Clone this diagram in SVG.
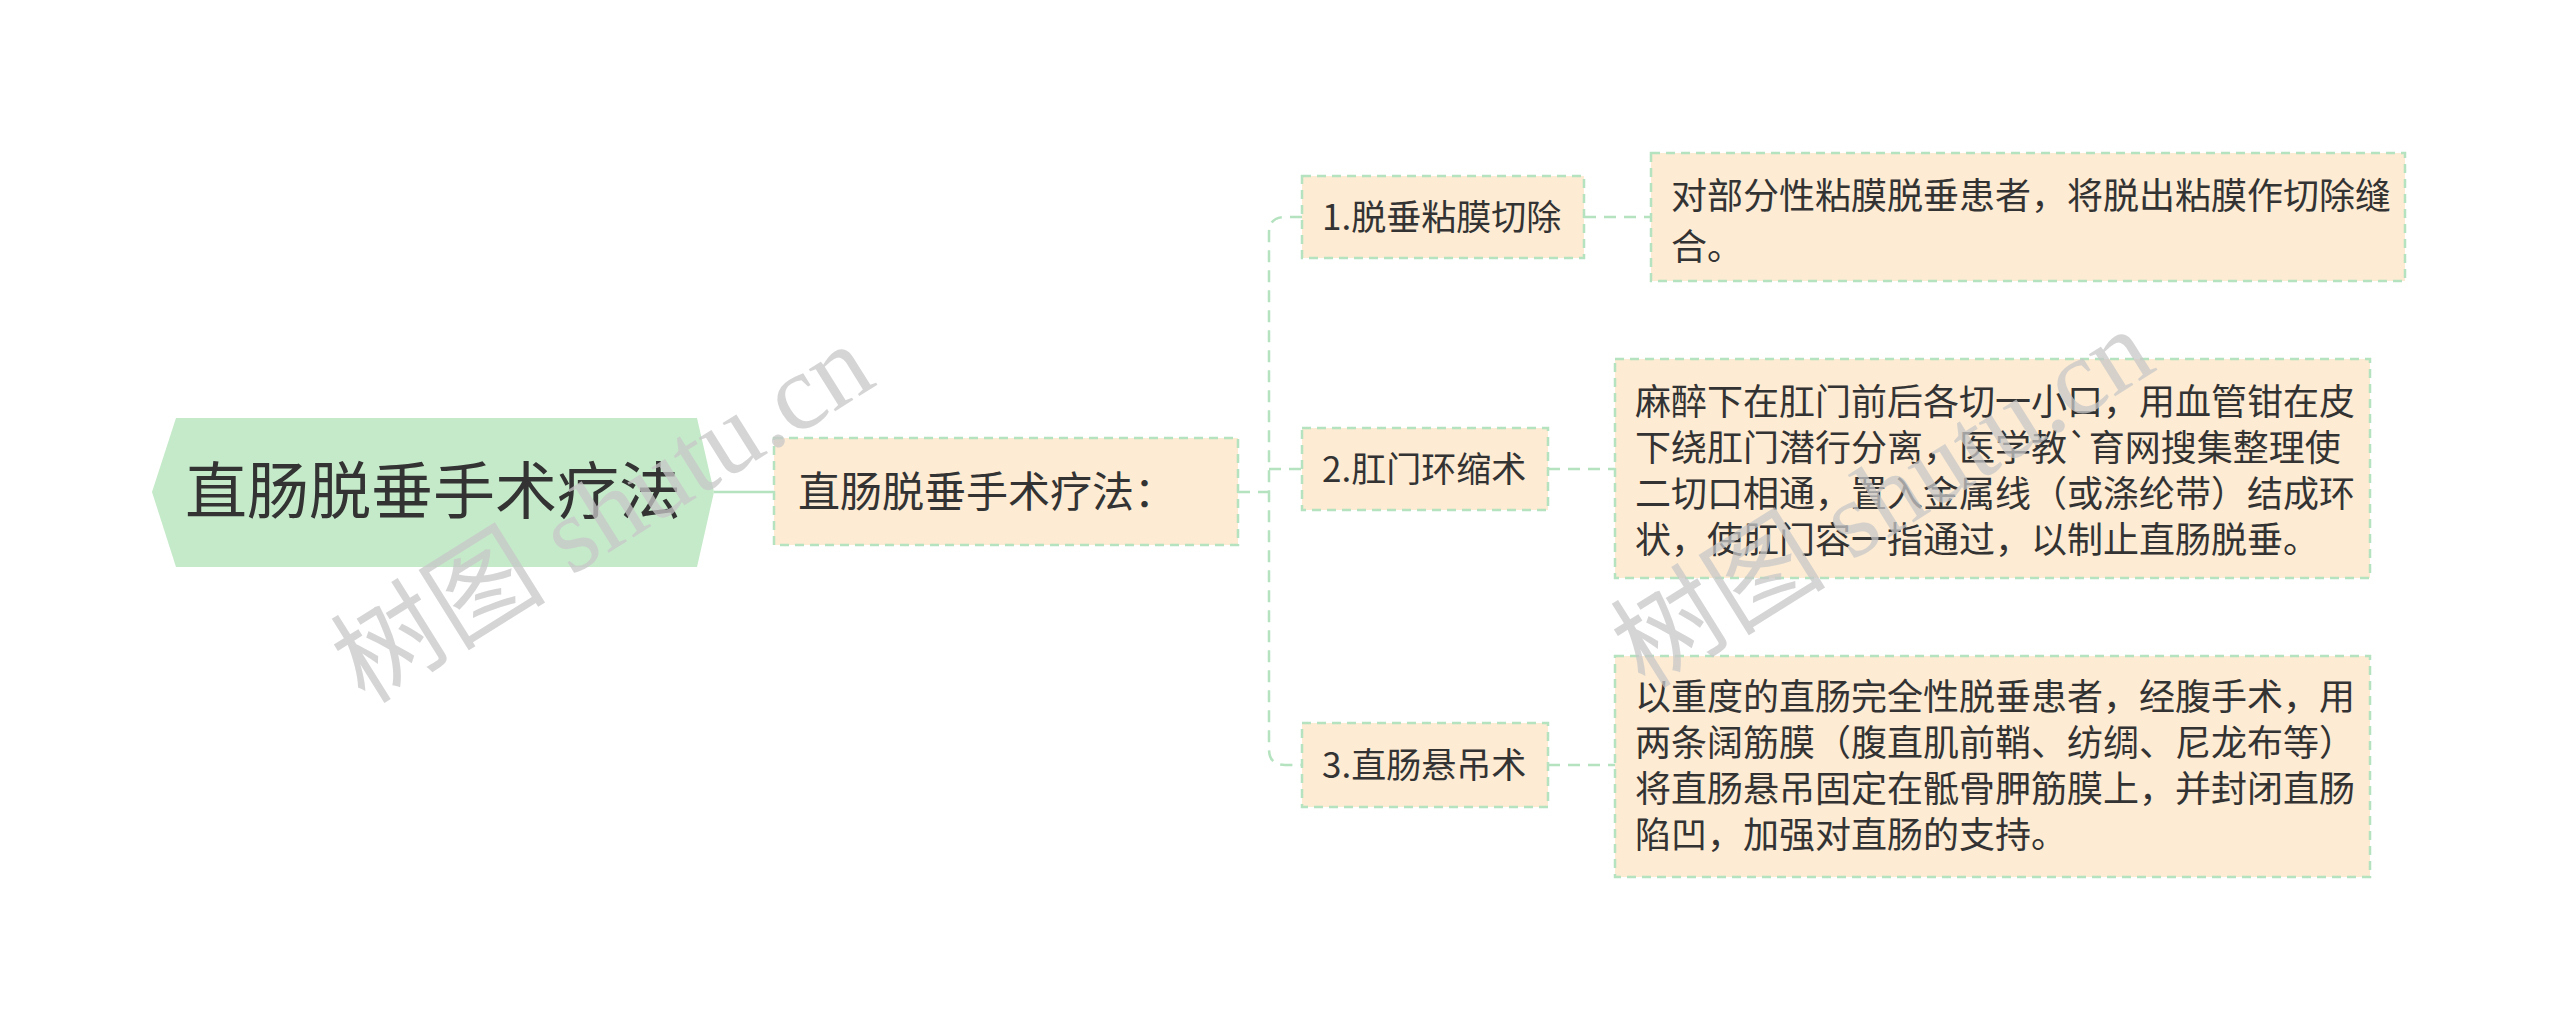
<svg xmlns="http://www.w3.org/2000/svg" width="2560" height="1031" viewBox="0 0 2560 1031">
<style>
.box{fill:#fdebd3;stroke:#b5e3c0;stroke-width:2.5;stroke-dasharray:9 6}
.con{fill:none;stroke:#b5e3c0;stroke-width:2.5;stroke-dasharray:12 8}
.t{font-family:"Noto Sans CJK SC","Noto Sans",sans-serif;fill:#333}
.wm{font-family:"Liberation Serif","Noto Sans CJK SC",serif;fill:#c8c8c8;font-size:108px;opacity:0.75}
</style>
<rect width="2560" height="1031" fill="#fff"/>
<g id="connectors">
<line x1="714" y1="492" x2="774" y2="492" stroke="#b5e3c0" stroke-width="2.5"/>
<path class="con" d="M1238 492H1269M1302 217H1285Q1269 217 1269 233V749Q1269 765 1285 765H1302M1269 469H1302"/>
<line class="con" x1="1584" y1="217" x2="1651" y2="217"/>
<line class="con" x1="1548" y1="469" x2="1615" y2="469"/>
<line class="con" x1="1548" y1="765" x2="1615" y2="765"/>
</g>
<g id="root">
<polygon points="176,418 697,418 714,492 697,567 176,567 152,492" fill="#c5eac9"/>
<text class="t" x="433" y="514" font-size="62" text-anchor="middle">直肠脱垂手术疗法</text>
</g>
<g id="n1">
<rect class="box" x="774" y="438" width="464" height="107"/>
<text class="t" x="798" y="507" font-size="42">直肠脱垂手术疗法：</text>
</g>
<g id="c1">
<rect class="box" x="1302" y="176" width="282" height="82"/>
<text class="t" x="1322" y="230" font-size="35">1.脱垂粘膜切除</text>
</g>
<g id="c2">
<rect class="box" x="1302" y="428" width="246" height="82"/>
<text class="t" x="1322" y="482" font-size="35">2.肛门环缩术</text>
</g>
<g id="c3">
<rect class="box" x="1302" y="723" width="246" height="84"/>
<text class="t" x="1322" y="778" font-size="35">3.直肠悬吊术</text>
</g>
<g id="l1">
<rect class="box" x="1651" y="153" width="754" height="128"/>
<text class="t" font-size="36"><tspan x="1671" y="209">对部分性粘膜脱垂患者，将脱出粘膜作切除缝</tspan><tspan x="1671" y="260">合。</tspan></text>
</g>
<g id="l2">
<rect class="box" x="1615" y="359" width="755" height="219"/>
<text class="t" font-size="36"><tspan x="1635" y="415">麻醉下在肛门前后各切一小口，用血管钳在皮</tspan><tspan x="1635" y="461">下绕肛门潜行分离，医学教`育网搜集整理使</tspan><tspan x="1635" y="507">二切口相通，置入金属线（或涤纶带）结成环</tspan><tspan x="1635" y="553">状，使肛门容一指通过，以制止直肠脱垂。</tspan></text>
</g>
<g id="l3">
<rect class="box" x="1615" y="656" width="755" height="221"/>
<text class="t" font-size="36"><tspan x="1635" y="710">以重度的直肠完全性脱垂患者，经腹手术，用</tspan><tspan x="1635" y="756">两条阔筋膜（腹直肌前鞘、纺绸、尼龙布等）</tspan><tspan x="1635" y="802">将直肠悬吊固定在骶骨胛筋膜上，并封闭直肠</tspan><tspan x="1635" y="848">陷凹，加强对直肠的支持。</tspan></text>
</g>
<g id="watermark">
<text class="wm" x="0" y="0" transform="translate(365,705) rotate(-32)">树图 shutu.cn</text>
<text class="wm" x="0" y="0" transform="translate(1645,690) rotate(-32)">树图 shutu.cn</text>
</g>
</svg>
